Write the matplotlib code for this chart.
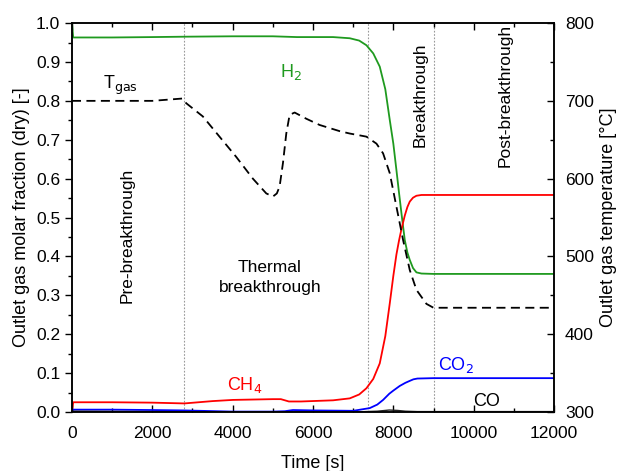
import matplotlib.pyplot as plt
from matplotlib.ticker import MultipleLocator

plt.rcParams['font.family'] = ['Liberation Sans', 'DejaVu Sans']
plt.rcParams['font.size'] = 12.5

# time axis [s] and molar fractions
t_h2 = [0, 30, 1000, 2000, 2800, 4000, 5000, 5300, 5600, 6500, 6915, 7150, 7330, 7500,
        7662, 7800, 7911, 8000, 8077, 8140, 8202, 8285, 8350, 8409, 8490, 8575, 8700, 9000, 12000]
h2 = [1.0, 0.963, 0.963, 0.964, 0.965, 0.966, 0.966, 0.965, 0.964, 0.964, 0.961, 0.955, 0.943, 0.922,
      0.888, 0.83, 0.751, 0.69, 0.622, 0.565, 0.511, 0.442, 0.41, 0.391, 0.37, 0.359, 0.356, 0.355, 0.355]

t_ch4 = [0, 30, 1000, 2000, 2800, 3500, 4000, 5000, 5200, 5400, 5700, 6500, 6915, 7150, 7330, 7500,
         7662, 7800, 7911, 8000, 8077, 8140, 8202, 8285, 8350, 8409, 8490, 8575, 8700, 9000, 12000]
ch4 = [0.0, 0.025, 0.025, 0.024, 0.022, 0.028, 0.031, 0.033, 0.033, 0.027, 0.027, 0.030, 0.035, 0.045, 0.061, 0.085,
       0.125, 0.195, 0.279, 0.35, 0.405, 0.44, 0.47, 0.505, 0.527, 0.541, 0.551, 0.556, 0.558, 0.558, 0.558]

t_co2 = [0, 30, 1000, 2000, 2800, 4000, 5000, 5300, 5500, 6000, 7000, 7413, 7600, 7745, 7900,
         8000, 8160, 8300, 8409, 8500, 8600, 9000, 12000]
co2 = [0.0, 0.006, 0.006, 0.005, 0.004, 0.001, 0.001, 0.002, 0.005, 0.004, 0.003, 0.010, 0.019, 0.031, 0.047,
       0.055, 0.067, 0.075, 0.080, 0.084, 0.086, 0.087, 0.087]

t_co = [0, 2000, 4000, 7000, 7600, 7900, 8100, 8300, 8600, 12000]
co = [0.002, 0.001, 0.0, 0.0, 0.002, 0.005, 0.004, 0.002, 0.001, 0.001]

# outlet gas temperature [°C]
t_gas = [0, 1000, 2000, 2500, 2750, 2843, 3257, 3672, 4088, 4503, 4837, 5003, 5100, 5169, 5252,
         5335, 5418, 5543, 5834, 6165, 6667, 6915, 7330, 7580, 7745, 7911, 8077, 8243, 8409,
         8575, 8824, 9000, 12000]
T_gas = [700, 700, 700, 702, 703, 697, 680, 654, 628, 600, 581, 577, 581, 590, 620,
         658, 682, 685, 677, 669, 661, 658, 654, 645, 632.5, 607, 564, 521, 482.5,
         457, 439, 434, 434]

phase_bounds = [2800, 7370, 9000]

green = '#1f9a1f'

fig = plt.figure(figsize=(6.19, 4.71), dpi=100)
ax = fig.add_axes([0.1163, 0.1253, 0.7787, 0.8257])
ax2 = ax.twinx()

for x in phase_bounds:
    ax.axvline(x, color='#999999', lw=0.8, ls=(0, (1.5, 1.5)), zorder=1)

ax.plot(t_h2, h2, color=green, lw=1.3)
ax.plot(t_ch4, ch4, color='#ff0000', lw=1.3)
ax.plot(t_co2, co2, color='#0000ff', lw=1.3)
ax.plot(t_co, co, color='#222222', lw=1.0)
ax2.plot(t_gas, T_gas, color='black', lw=1.3, ls=(0, (5, 3)))

ax.set_xlim(0, 12000)
ax.set_ylim(0, 1.0)
ax2.set_ylim(300, 800)

ax.xaxis.set_major_locator(MultipleLocator(2000))
ax.xaxis.set_minor_locator(MultipleLocator(1000))
ax.yaxis.set_major_locator(MultipleLocator(0.1))
ax.yaxis.set_minor_locator(MultipleLocator(0.05))
ax2.yaxis.set_major_locator(MultipleLocator(100))
ax2.yaxis.set_minor_locator(MultipleLocator(50))
ax.yaxis.set_major_formatter(plt.FormatStrFormatter('%.1f'))

ax.tick_params(axis='x', which='both', direction='in', top=True, pad=10)
ax.tick_params(axis='y', which='both', direction='out')
ax2.tick_params(axis='y', which='both', direction='in', pad=8)
ax.tick_params(which='major', length=5, width=1)
ax.tick_params(which='minor', length=3, width=1)
ax2.tick_params(which='major', length=5, width=1)
ax2.tick_params(which='minor', length=3, width=1)
for a in (ax, ax2):
    for s in a.spines.values():
        s.set_linewidth(1.1)

ax.set_xlabel('Time [s]', fontsize=13, labelpad=10)
ax.set_ylabel('Outlet gas molar fraction (dry) [-]', fontsize=13)
ax2.set_ylabel('Outlet gas temperature [°C]', fontsize=13)

ax.text(5170, 0.875, 'H$_2$', color=green, fontsize=13, va='center')
ax.text(3850, 0.07, 'CH$_4$', color='#ff0000', fontsize=13, va='center')
ax.text(9110, 0.12, 'CO$_2$', color='#0000ff', fontsize=13, va='center')
ax.text(9980, 0.028, 'CO', color='black', fontsize=13, va='center')
ax.text(760, 0.84, 'T$_{\\mathrm{gas}}$', color='black', fontsize=13, va='center')

ax.text(1380, 0.455, 'Pre-breakthrough', rotation=90, ha='center', va='center', fontsize=12.5)
ax.text(4930, 0.345, 'Thermal\nbreakthrough', ha='center', va='center', fontsize=12.5,
        linespacing=1.4)
ax.text(8665, 0.815, 'Breakthrough', rotation=90, ha='center', va='center', fontsize=12.5)
ax.text(10780, 0.815, 'Post-breakthrough', rotation=90, ha='center', va='center', fontsize=12.5)

fig.savefig('out.png', dpi=100)
